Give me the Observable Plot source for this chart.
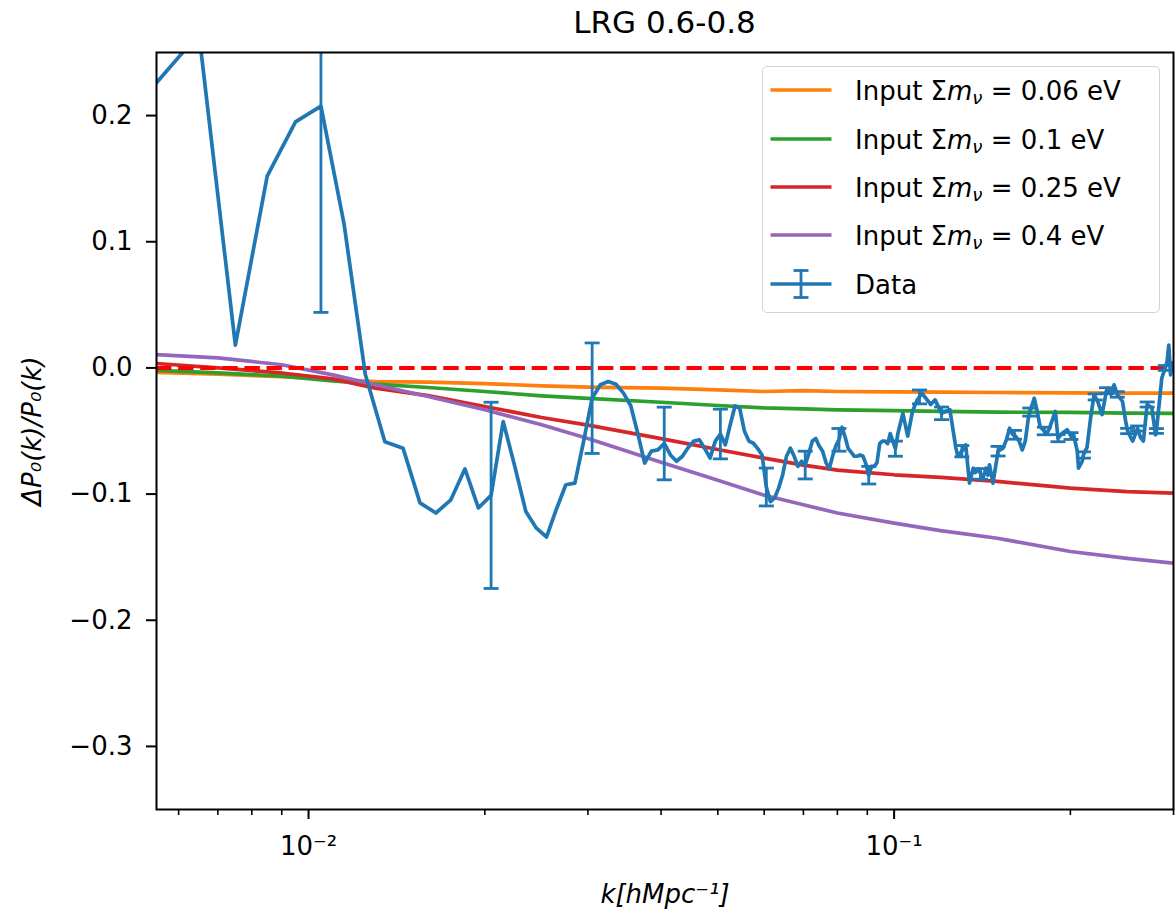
<!DOCTYPE html>
<html><head><meta charset="utf-8">
<script src="https://cdn.jsdelivr.net/npm/d3@7"></script>
<script src="https://cdn.jsdelivr.net/npm/@observablehq/plot@0.6"></script>
<style>
body{margin:0;background:#fff;}
#wrap{position:relative;width:1176px;height:913px;font-family:"DejaVu Sans",sans-serif;color:#000;}
#title{position:relative;height:50px;}
#title span{position:absolute;left:156px;width:1017px;top:7px;text-align:center;font-size:31px;line-height:31px;white-space:nowrap;}
#legend{position:absolute;left:762px;top:66px;width:396px;height:245px;border:1.5px solid #d3d3d3;border-radius:5px;background:rgba(255,255,255,0.8);}
.row{position:absolute;left:0;width:390px;height:30px;}
.row svg{position:absolute;left:7px;top:0;}
.row span{position:absolute;left:92px;top:3px;font-size:26px;line-height:26px;white-space:nowrap;}
.row sub{font-size:0.7em;vertical-align:-0.22em;line-height:0;}
</style></head>
<body>
<div id="wrap">
  <div id="title"><span>LRG 0.6-0.8</span></div>
  <div id="chart"></div>
  <div id="legend"></div>
</div>
<script>
// ---- model curves (theory ratios) ----
const kModel = [0.0055,0.007,0.009,0.011,0.013,0.016,0.02,0.025,0.03,0.04,0.05,0.06,0.07,0.08,0.1,0.12,0.15,0.2,0.25,0.3];
const m006 = [-0.0035,-0.005,-0.007,-0.009,-0.0108,-0.0113,-0.0124,-0.0142,-0.0153,-0.016,-0.0174,-0.0187,-0.018,-0.0187,-0.019,-0.0192,-0.0195,-0.0198,-0.02,-0.02];
const m01  = [-0.002,-0.004,-0.0065,-0.0102,-0.0129,-0.0155,-0.0187,-0.0221,-0.0242,-0.0272,-0.0298,-0.0316,-0.0324,-0.0332,-0.0338,-0.0345,-0.0351,-0.0353,-0.0359,-0.036];
const m025 = [0.0035,0.0,-0.004,-0.0087,-0.016,-0.022,-0.0306,-0.0393,-0.0454,-0.056,-0.0647,-0.0715,-0.077,-0.081,-0.0847,-0.0868,-0.09,-0.0953,-0.098,-0.0993];
const m04  = [0.0106,0.008,0.0025,-0.0055,-0.0134,-0.0227,-0.0332,-0.0451,-0.056,-0.0747,-0.089,-0.1009,-0.1085,-0.115,-0.123,-0.129,-0.135,-0.1455,-0.151,-0.1548];

// ---- data ----
const kData = [
0.0055,0.0065,0.0075,0.0085,0.0095,0.0105,0.0115,0.0125,0.0135,0.0145,
0.0155,0.0165,0.0175,0.0185,0.0195,0.0205,0.0215,0.0225,0.0235,0.0245,
0.0255,0.0265,0.0275,0.0285,0.0295,0.0305,0.0315,0.0325,0.0335,0.0345,
0.0355,0.0365,0.0375,0.0385,0.0395,0.0405,0.0415,0.0425,0.0435,0.0445,
0.0455,0.0465,0.0475,0.0485,0.0495,0.0505,0.0515,0.0525,0.0535,0.0545,
0.0555,0.0565,0.0575,0.0585,0.0595,0.0605,0.0615,0.0625,0.0635,0.0645,
0.0655,0.0665,0.0675,0.0685,0.0695,0.0705,0.0715,0.0725,0.0735,0.0745,
0.0755,0.0765,0.0775,0.0785,0.0795,0.0805,0.0815,0.0825,0.0835,0.0845,
0.0855,0.0865,0.0875,0.0885,0.0895,0.0905,0.0915,0.0925,0.0935,0.0945,
0.0955,0.0965,0.0975,0.0985,0.0995,0.1005,0.1015,0.1035,0.1055,0.1075,
0.1095,0.1105,0.1115,0.1155,0.1175,0.1205,0.1245,0.1275,0.1285,0.1305,
0.1325,0.1345,0.1365,0.1375,0.1395,0.1405,0.1415,0.1435,0.1445,0.1455,
0.1475,0.1505,0.1535,0.1555,0.1575,0.1595,0.1605,0.1635,0.1655,0.1675,
0.1695,0.1705,0.1735,0.1755,0.1775,0.1805,0.1825,0.1845,0.1885,0.1905,
0.1935,0.1975,0.2005,0.2025,0.2055,0.2065,0.2095,0.2105,0.2135,0.2165,
0.2195,0.2205,0.2225,0.2265,0.2305,0.2315,0.2345,0.2375,0.2405,0.2455,
0.2485,0.2505,0.2535,0.2555,0.2605,0.2635,0.2665,0.2705,0.2755,0.2795,
0.2805,0.2835,0.2865,0.2905,0.2925,0.2945,0.2965,0.2985];
const dpData = [
0.226,0.265,0.018,0.152,0.195,0.2075,0.114,-0.005,-0.0586,-0.0636,
-0.107,-0.115,-0.1045,-0.08,-0.111,-0.101,-0.0425,-0.078,-0.1138,-0.127,
-0.134,-0.112,-0.0926,-0.0913,-0.058,-0.024,-0.0134,-0.0108,-0.013,-0.02,
-0.03,-0.052,-0.0755,-0.066,-0.065,-0.0599,-0.069,-0.074,-0.07,-0.063,
-0.058,-0.057,-0.064,-0.0715,-0.058,-0.0524,-0.061,-0.045,-0.03,-0.032,
-0.05,-0.058,-0.0597,-0.064,-0.069,-0.0944,-0.106,-0.103,-0.0953,-0.085,
-0.07,-0.0636,-0.07,-0.078,-0.074,-0.077,-0.068,-0.058,-0.056,-0.062,
-0.066,-0.075,-0.08,-0.07,-0.062,-0.057,-0.047,-0.055,-0.064,-0.067,
-0.07,-0.07,-0.069,-0.07,-0.076,-0.085,-0.078,-0.078,-0.075,-0.06,
-0.058,-0.058,-0.06,-0.052,-0.058,-0.064,-0.052,-0.036,-0.054,-0.0345,
-0.0253,-0.023,-0.02,-0.029,-0.0253,-0.036,-0.033,-0.0636,-0.07,-0.066,
-0.061,-0.0913,-0.0795,-0.083,-0.08,-0.084,-0.0887,-0.0795,-0.085,-0.0768,
-0.0913,-0.066,-0.0636,-0.057,-0.0478,-0.053,-0.053,-0.058,-0.065,-0.058,
-0.04,-0.035,-0.024,-0.034,-0.0464,-0.05,-0.052,-0.047,-0.0345,-0.0557,
-0.052,-0.049,-0.054,-0.053,-0.066,-0.0795,-0.074,-0.069,-0.063,-0.04,
-0.0213,-0.023,-0.026,-0.037,-0.018,-0.016,-0.021,-0.0134,-0.021,-0.0266,
-0.042,-0.05,-0.055,-0.058,-0.048,-0.055,-0.058,-0.029,-0.0315,-0.053,
-0.05,-0.029,-0.008,0.0,0.005,0.018,-0.0055,0.004];

// ---- error bars (every 10th bin) ----
const errK = [0.0105,0.0205,0.0305,0.0405,0.0505,0.0605,0.0705,0.0805,0.0905,0.1005,
0.1105,0.1205,0.1305,0.1405,0.1505,0.1605,0.1705,0.1805,0.1905,0.2005,
0.2105,0.2205,0.2305,0.2405,0.2505,0.2605,0.2705,0.2805,0.2905];
const errHalf = [0.1635,0.0738,0.0438,0.0288,0.0197,0.015,0.011,0.009,0.007,0.006,
0.0055,0.005,0.0045,0.0042,0.0038,0.0035,0.0032,0.003,0.0028,0.0027,
0.0025,0.0024,0.0023,0.0022,0.0021,0.002,0.002,0.0019,0.0019];

// ---- axes ----
const yTicks = [-0.3,-0.2,-0.1,0.0,0.1,0.2];
const xMajor = [0.01,0.1];
const xMinor = [0.006,0.007,0.008,0.009,0.02,0.03,0.04,0.05,0.06,0.07,0.08,0.09,0.2,0.3];

// ---- legend ----
const legendMasses = ["0.06","0.1","0.25","0.4"];
const modelColors = ["#ff7f0e","#2ca02c","#d62728","#9467bd"];
const dataColor = "#1f77b4";

const models = [m006,m01,m025,m04];
const dataRows = kData.map((k,i)=>({k, v: dpData[i]}));
const lookup = new Map(kData.map((k,i)=>[k.toFixed(4), dpData[i]]));
const errRows = errK.map((k,i)=>{const v = lookup.get(k.toFixed(4)); return {k, lo: v-errHalf[i], hi: v+errHalf[i]};});
const capRows = errRows.flatMap(r=>[{k:r.k, y:r.lo},{k:r.k, y:r.hi}]);
const capSymbol = {draw(ctx){ctx.moveTo(-7.5,0); ctx.lineTo(7.5,0);}};

const supMap = {"-":"⁻","0":"⁰","1":"¹","2":"²","3":"³","4":"⁴","5":"⁵","6":"⁶","7":"⁷","8":"⁸","9":"⁹"};
const fmtPow = d => "10" + String(Math.round(Math.log10(d))).split("").map(c=>supMap[c]).join("");

const LW = 3.7;
const chart = Plot.plot({
  width: 1176, height: 863,
  marginLeft: 156, marginRight: 3, marginTop: 2, marginBottom: 104,
  style: {fontFamily: "DejaVu Sans", fontSize: "26px", background: "transparent", color: "black"},
  x: {type: "log", domain: [0.0055, 0.3]},
  y: {domain: [-0.35, 0.25]},
  marks: [
    ...models.map((m,j)=>Plot.line(kModel.map((k,i)=>({k, v:m[i]})), {x:"k", y:"v", stroke: modelColors[j], strokeWidth: LW, clip: true})),
    Plot.ruleY([0], {stroke: "#ff0000", strokeWidth: 4, strokeDasharray: "15.4,6.7"}),
    Plot.line(dataRows, {x:"k", y:"v", stroke: dataColor, strokeWidth: LW, clip: true}),
    Plot.ruleX(errRows, {x:"k", y1:"lo", y2:"hi", stroke: dataColor, strokeWidth: 2.8, clip: true}),
    Plot.dot(capRows, {x:"k", y:"y", symbol: capSymbol, stroke: dataColor, fill: "none", strokeWidth: 2.8, clip: true}),
    Plot.frame({stroke: "black", strokeWidth: 2}),
    Plot.axisY(yTicks, {tickSize: 10, tickPadding: 14, tickFormat: d3.format(".1f"), label: null, strokeWidth: 2}),
    Plot.axisX(xMinor, {tickSize: 6, tickFormat: () => "", label: null, strokeWidth: 1.6}),
    Plot.axisX(xMajor, {tickSize: 10, tickPadding: 17, tickFormat: fmtPow, label: null, strokeWidth: 2}),
    Plot.text(["ΔP₀(k)/P₀(k)"], {text: d=>d, frameAnchor: "left", rotate: -90, dx: -124, textAnchor: "middle", lineAnchor: "middle", fontStyle: "italic"}),
    Plot.text(["k[hMpc⁻¹]"], {text: d=>d, frameAnchor: "bottom", dy: 85, textAnchor: "middle", lineAnchor: "middle", fontStyle: "italic"})
  ]
});
document.getElementById("chart").appendChild(chart);

// legend build
const legend = document.getElementById("legend");
const rowCenters = [90.7, 139, 187.3, 235.6, 284];
function addRow(i, svgInner, html){
  const row = document.createElement("div");
  row.className = "row";
  row.style.top = (rowCenters[i] - 66 - 1.5 - 15) + "px";
  row.innerHTML = `<svg width="64" height="30">${svgInner}</svg><span>${html}</span>`;
  legend.appendChild(row);
}
legendMasses.forEach((m,i)=>{
  addRow(i, `<line x1="0.5" y1="15" x2="61.5" y2="15" stroke="${modelColors[i]}" stroke-width="${LW}"/>`,
    `Input Σ<i>m</i><sub><i>ν</i></sub> = ${m} eV`);
});
addRow(4, `<line x1="0.5" y1="15" x2="61.5" y2="15" stroke="${dataColor}" stroke-width="${LW}"/>
  <line x1="31" y1="0.5" x2="31" y2="29.5" stroke="${dataColor}" stroke-width="2.8"/>
  <line x1="23.5" y1="1.5" x2="38.5" y2="1.5" stroke="${dataColor}" stroke-width="2.8"/>
  <line x1="23.5" y1="28.5" x2="38.5" y2="28.5" stroke="${dataColor}" stroke-width="2.8"/>`, "Data");
</script>
</body></html>
